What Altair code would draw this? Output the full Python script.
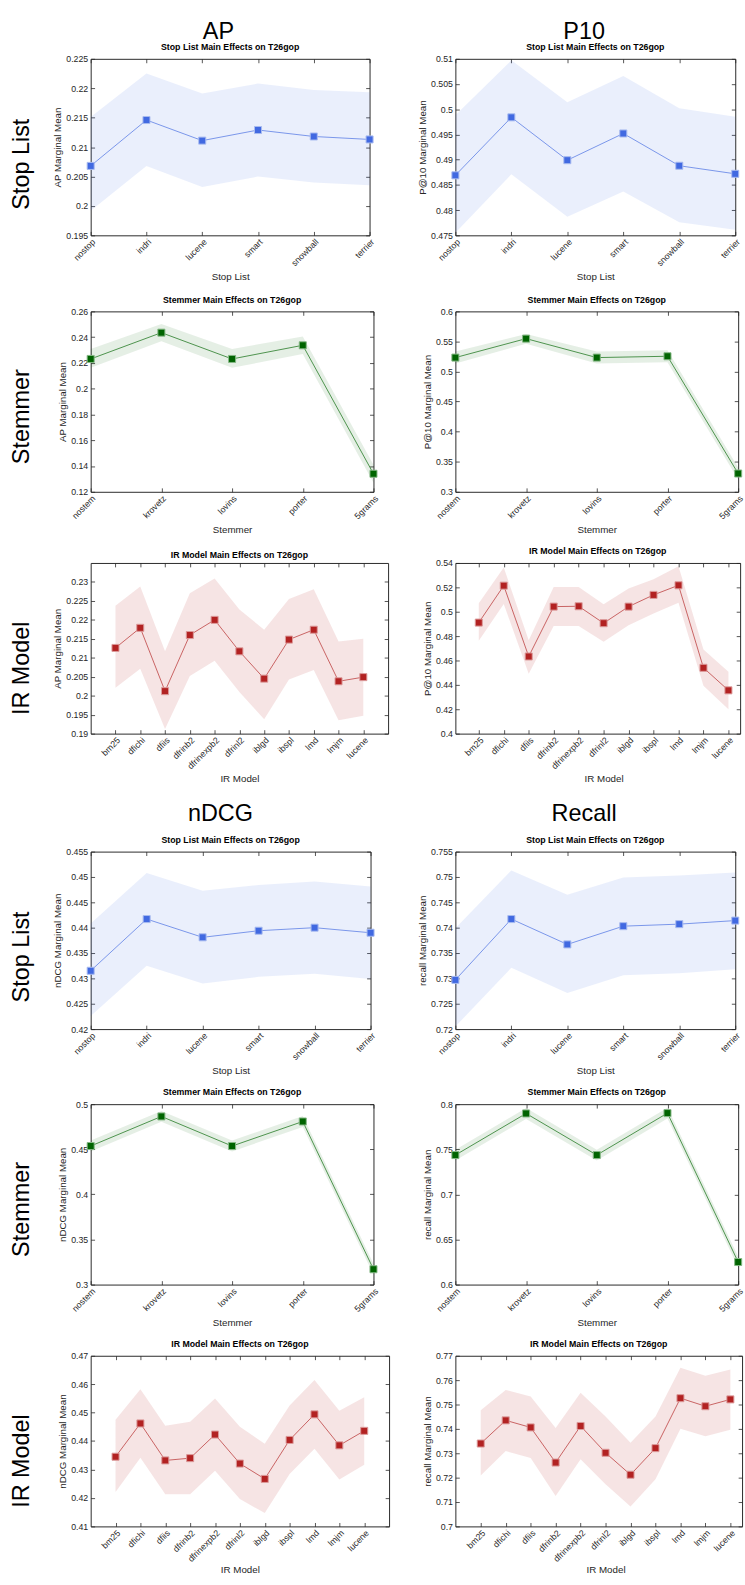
import altair as alt
import pandas as pd

FONT = "Liberation Sans"
AX = "#262626"

# ---------------- categories ----------------
stop_lists = ["nostop", "indri", "lucene", "smart", "snowball", "terrier"]
stemmers = ["nostem", "krovetz", "lovins", "porter", "5grams"]
ir_models = ["bm25", "dfichi", "dfiis", "dfrinb2", "dfrinexpb2", "dfrinl2",
             "iblgd", "ibspl", "lmd", "lmjm", "lucene"]

# ---------------- AP ----------------
ap_stop_mean = [0.2068, 0.2146, 0.2111, 0.2129, 0.2118, 0.2113]
ap_stop_lo = [0.1992, 0.2068, 0.2032, 0.2050, 0.2040, 0.2035]
ap_stop_hi = [0.2151, 0.2225, 0.2191, 0.2208, 0.2197, 0.2193]

ap_stem_mean = [0.2231, 0.2435, 0.2231, 0.2337, 0.1340]
ap_stem_lo = [0.2162, 0.2368, 0.2162, 0.2270, 0.1270]
ap_stem_hi = [0.2309, 0.2502, 0.2309, 0.2405, 0.1410]

ap_ir_mean = [0.2126, 0.2179, 0.2012, 0.2160, 0.2200, 0.2117, 0.2045, 0.2148, 0.2174, 0.2038, 0.2049]
ap_ir_lo = [0.2021, 0.2071, 0.1912, 0.2052, 0.2092, 0.2010, 0.1938, 0.2043, 0.2068, 0.1935, 0.1947]
ap_ir_hi = [0.2237, 0.2288, 0.2117, 0.2270, 0.2309, 0.2227, 0.2174, 0.2255, 0.2281, 0.2143, 0.2150]

# ---------------- P@10 ----------------
p10_stop_mean = [0.4869, 0.4984, 0.4899, 0.4952, 0.4888, 0.4872]
p10_stop_lo = [0.4755, 0.4871, 0.4787, 0.4837, 0.4776, 0.4761]
p10_stop_hi = [0.4988, 0.5097, 0.5014, 0.5066, 0.5002, 0.4985]

p10_stem_mean = [0.5232, 0.5547, 0.5232, 0.5254, 0.3304]
p10_stem_lo = [0.5134, 0.5464, 0.5132, 0.5154, 0.3204]
p10_stem_hi = [0.5334, 0.5624, 0.5332, 0.5354, 0.3404]

p10_ir_mean = [0.4911, 0.5214, 0.4633, 0.5042, 0.5045, 0.4906, 0.5042, 0.5138, 0.5217, 0.4540, 0.4355]
p10_ir_lo = [0.4761, 0.5064, 0.4491, 0.4884, 0.4884, 0.4753, 0.4890, 0.4985, 0.5073, 0.4393, 0.4199]
p10_ir_hi = [0.5070, 0.5362, 0.4767, 0.5203, 0.5203, 0.5062, 0.5190, 0.5266, 0.5373, 0.4690, 0.4508]

# ---------------- nDCG ----------------
ndcg_stop_mean = [0.4315, 0.4417, 0.4381, 0.4394, 0.4400, 0.4390]
ndcg_stop_lo = [0.4226, 0.4325, 0.4290, 0.4303, 0.4309, 0.4299]
ndcg_stop_hi = [0.4408, 0.4508, 0.4473, 0.4484, 0.4491, 0.4481]

ndcg_stem_mean = [0.4536, 0.4864, 0.4536, 0.4808, 0.3170]
ndcg_stem_lo = [0.4476, 0.4804, 0.4476, 0.4748, 0.3110]
ndcg_stem_hi = [0.4596, 0.4924, 0.4596, 0.4868, 0.3230]

ndcg_ir_mean = [0.4345, 0.4462, 0.4332, 0.4340, 0.4423, 0.4321, 0.4267, 0.4404, 0.4494, 0.4385, 0.4436]
ndcg_ir_lo = [0.4221, 0.4341, 0.4213, 0.4213, 0.4296, 0.4196, 0.4147, 0.4284, 0.4373, 0.4265, 0.4317]
ndcg_ir_hi = [0.4475, 0.4582, 0.4454, 0.4468, 0.4550, 0.4450, 0.4391, 0.4525, 0.4615, 0.4507, 0.4554]

# ---------------- Recall ----------------
rec_stop_mean = [0.7297, 0.7417, 0.7367, 0.7403, 0.7407, 0.7414]
rec_stop_lo = [0.7205, 0.7321, 0.7271, 0.7306, 0.7310, 0.7318]
rec_stop_hi = [0.7399, 0.7513, 0.7465, 0.7499, 0.7503, 0.7509]

rec_stem_mean = [0.7436, 0.7897, 0.7436, 0.7901, 0.6250]
rec_stem_lo = [0.7376, 0.7837, 0.7376, 0.7841, 0.6190]
rec_stem_hi = [0.7496, 0.7957, 0.7496, 0.7961, 0.6310]

rec_ir_mean = [0.7340, 0.7435, 0.7406, 0.7262, 0.7412, 0.7302, 0.7212, 0.7321, 0.7526, 0.7493, 0.7521]
rec_ir_lo = [0.7209, 0.7309, 0.7281, 0.7125, 0.7275, 0.7173, 0.7082, 0.7193, 0.7401, 0.7370, 0.7397]
rec_ir_hi = [0.7476, 0.7560, 0.7533, 0.7404, 0.7548, 0.7451, 0.7343, 0.7451, 0.7651, 0.7618, 0.7644]

# ---------------- axes: domains and tick labels ----------------
ap_stop_dom, ap_stop_ticks = [0.195, 0.225], [0.195, 0.2, 0.205, 0.21, 0.215, 0.22, 0.225]
p10_stop_dom, p10_stop_ticks = [0.475, 0.51], [0.475, 0.48, 0.485, 0.49, 0.495, 0.5, 0.505, 0.51]
ap_stem_dom, ap_stem_ticks = [0.12, 0.26], [0.12, 0.14, 0.16, 0.18, 0.2, 0.22, 0.24, 0.26]
p10_stem_dom, p10_stem_ticks = [0.3, 0.6], [0.3, 0.35, 0.4, 0.45, 0.5, 0.55, 0.6]
ap_ir_dom, ap_ir_ticks = [0.19, 0.235], [0.19, 0.195, 0.2, 0.205, 0.21, 0.215, 0.22, 0.225, 0.23]
p10_ir_dom, p10_ir_ticks = [0.4, 0.54], [0.4, 0.42, 0.44, 0.46, 0.48, 0.5, 0.52, 0.54]
ndcg_stop_dom, ndcg_stop_ticks = [0.42, 0.455], [0.42, 0.425, 0.43, 0.435, 0.44, 0.445, 0.45, 0.455]
rec_stop_dom, rec_stop_ticks = [0.72, 0.755], [0.72, 0.725, 0.73, 0.735, 0.74, 0.745, 0.75, 0.755]
ndcg_stem_dom, ndcg_stem_ticks = [0.3, 0.5], [0.3, 0.35, 0.4, 0.45, 0.5]
rec_stem_dom, rec_stem_ticks = [0.6, 0.8], [0.6, 0.65, 0.7, 0.75, 0.8]
ndcg_ir_dom, ndcg_ir_ticks = [0.41, 0.47], [0.41, 0.42, 0.43, 0.44, 0.45, 0.46, 0.47]
rec_ir_dom, rec_ir_ticks = [0.7, 0.77], [0.7, 0.71, 0.72, 0.73, 0.74, 0.75, 0.76, 0.77]

STYLE = {
    "Stop List": ("#4169E1", "#A9BBF0", 0.11),
    "Stemmer": ("#006400", "#86B886", 0.10),
    "IR Model": ("#B22222", "#DC9A9A", 0.12),
}


def panel(factor, cats, mean, lo, hi, dom, ticks, ytitle, width, height, xscale, tpad):
    color, edge, alpha = STYLE[factor]
    df = pd.DataFrame({"cat": cats, "mean": mean, "lo": lo, "hi": hi})
    xs = alt.Scale(**xscale)
    ys = alt.Scale(domain=dom, nice=False, zero=False)
    base = alt.Chart(df)
    band = base.mark_area(color=color, opacity=alpha).encode(
        x=alt.X("cat:O", sort=cats, scale=xs,
                axis=alt.Axis(orient="bottom", title=factor, labelAngle=-45, offset=-4,
                              tickSize=4, domain=False, labelPadding=2, labelFontSize=9,
                              titlePadding=tpad)),
        y=alt.Y("lo:Q", scale=ys,
                axis=alt.Axis(orient="left", values=ticks, format="~g", title=ytitle,
                              offset=-4, tickSize=4, domain=False, labelPadding=3,
                              titlePadding=3)),
        y2="hi:Q",
    )
    line = base.mark_line(color=color, strokeWidth=0.8, opacity=0.85).encode(
        x=alt.X("cat:O", sort=cats, scale=xs,
                axis=alt.Axis(orient="top", labels=False, title=None, offset=-4,
                              tickSize=4, domain=False)),
        y=alt.Y("mean:Q", scale=ys,
                axis=alt.Axis(orient="right", values=ticks, labels=False, title=None,
                              offset=-4, tickSize=4, domain=False)),
    )
    pts = base.mark_point(shape="square", filled=True, size=52, fill=color, stroke=edge,
                          strokeWidth=1, opacity=1).encode(
        x=alt.X("cat:O", sort=cats, scale=xs, axis=None),
        y=alt.Y("mean:Q", scale=ys, axis=None),
    )
    return alt.layer(band, line, pts).resolve_axis(x="independent", y="independent").properties(
        width=width, height=height,
        title=alt.TitleParams(f"{factor} Main Effects on T26gop", fontSize=9, fontWeight="bold",
                              color="black", offset=3, font=FONT),
        view=alt.ViewBackground(stroke=AX, strokeWidth=1),
    )


def text_cell(txt, w, h, x=0, y=0, size=24, angle=0):
    df = pd.DataFrame({"t": [txt]})
    return alt.Chart(df).mark_text(fontSize=size, font=FONT, angle=angle, align="center",
                                   baseline="middle", color="black").encode(
        text="t:N", x=alt.value(x), y=alt.value(y)).properties(width=w, height=h)


def blank(w, h):
    return text_cell("", w, h, size=2)


EDGE = {"type": "point", "padding": 0}
PAD1 = {"type": "point", "padding": 1}

# all gaps are explicit blank cells; the grid itself has no spacing
cells = []
cells += [blank(86, 38), text_cell("AP", 306, 38, 131, 11), blank(68, 38),
          text_cell("P10", 287, 38, 132, 11)]

rows = [
    # (label, cats, left data, right data, x of left panel, Lw, gap L->R, Rw, h, xscales, gap below, title pad)
    ("Stop List", stop_lists,
     (ap_stop_mean, ap_stop_lo, ap_stop_hi, ap_stop_dom, ap_stop_ticks, "AP Marginal Mean"),
     (p10_stop_mean, p10_stop_lo, p10_stop_hi, p10_stop_dom, p10_stop_ticks, "P@10 Marginal Mean"),
     86, 286, 68, 287, 181, EDGE, EDGE, 78, 4),
    ("Stemmer", stemmers,
     (ap_stem_mean, ap_stem_lo, ap_stem_hi, ap_stem_dom, ap_stem_ticks, "AP Marginal Mean"),
     (p10_stem_mean, p10_stem_lo, p10_stem_hi, p10_stem_dom, p10_stem_ticks, "P@10 Marginal Mean"),
     82, 290, 64, 290, 185, EDGE, EDGE, 73, 4),
    ("IR Model", ir_models,
     (ap_ir_mean, ap_ir_lo, ap_ir_hi, ap_ir_dom, ap_ir_ticks, "AP Marginal Mean"),
     (p10_ir_mean, p10_ir_lo, p10_ir_hi, p10_ir_dom, p10_ir_ticks, "P@10 Marginal Mean"),
     87, 305, 48, 292, 175, PAD1, {"type": "point", "padding": 0, "range": [24, 280]}, None, 3),
    ("Stop List", stop_lists,
     (ndcg_stop_mean, ndcg_stop_lo, ndcg_stop_hi, ndcg_stop_dom, ndcg_stop_ticks, "nDCG Marginal Mean"),
     (rec_stop_mean, rec_stop_lo, rec_stop_hi, rec_stop_dom, rec_stop_ticks, "recall Marginal Mean"),
     85, 287, 68, 287, 182, EDGE, EDGE, 77, 4),
    ("Stemmer", stemmers,
     (ndcg_stem_mean, ndcg_stem_lo, ndcg_stem_hi, ndcg_stem_dom, ndcg_stem_ticks, "nDCG Marginal Mean"),
     (rec_stem_mean, rec_stem_lo, rec_stem_hi, rec_stem_dom, rec_stem_ticks, "recall Marginal Mean"),
     82, 290, 64, 290, 185, EDGE, EDGE, 73, 4),
    ("IR Model", ir_models,
     (ndcg_ir_mean, ndcg_ir_lo, ndcg_ir_hi, ndcg_ir_dom, ndcg_ir_ticks, "nDCG Marginal Mean"),
     (rec_ir_mean, rec_ir_lo, rec_ir_hi, rec_ir_dom, rec_ir_ticks, "recall Marginal Mean"),
     84, 306, 48, 294, 175, PAD1, {"type": "point", "padding": 0, "range": [26, 282]}, None, 1),
]

for i, (label, cats, ldat, rdat, w0, lw, sp, rw, h, lxs, rxs, gap, tpad) in enumerate(rows):
    cells.append(text_cell(label, w0, h, 17, 108, 24, 270))
    cells.append(panel(label, cats, *ldat, lw, h, lxs, tpad))
    cells.append(blank(sp, h))
    cells.append(panel(label, cats, *rdat, rw, h, rxs, tpad))
    if gap is not None:
        cells += [blank(w0, gap), blank(lw, gap), blank(sp, gap), blank(rw, gap)]
    elif i == 2:
        cells += [blank(85, 121), text_cell("nDCG", 287, 121, 133, 83), blank(68, 121),
                  text_cell("Recall", 287, 121, 132, 83)]

chart = alt.concat(*cells, columns=4, spacing={"row": 0, "column": 0}, bounds="flush",
                   align={"row": "each", "column": "none"}).properties(
    padding={"left": 5, "top": 0, "right": 0, "bottom": 0}
).configure_view(stroke="transparent").configure_axis(
    labelFont=FONT, titleFont=FONT, labelFontSize=9, titleFontSize=10,
    labelColor=AX, titleColor=AX, tickColor=AX, titleFontWeight="normal", grid=False,
    tickWidth=0.8,
).configure_title(font=FONT)

chart.save("out.html", embed_options={"renderer": "svg", "actions": False})
